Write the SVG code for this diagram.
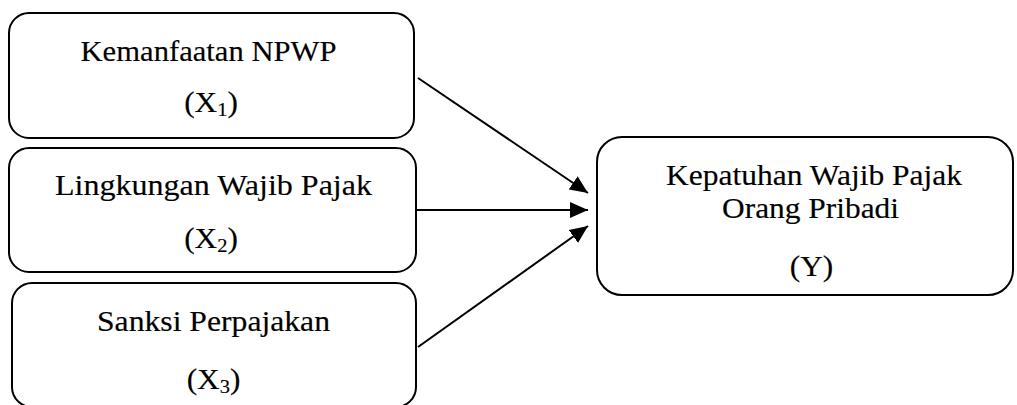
<svg xmlns="http://www.w3.org/2000/svg" width="1017" height="405" viewBox="0 0 1017 405">
<style>
.box{fill:#fff;stroke:#000;stroke-width:2}
.t{font-family:"Liberation Serif","Times New Roman",serif;font-size:29px;fill:#000;stroke:#000;stroke-width:0.15;text-anchor:middle}
.sub{font-size:19px}
.edge{stroke:#000;stroke-width:2;fill:none;marker-end:url(#ah)}
</style>
<defs>
<marker id="ah" markerUnits="userSpaceOnUse" markerWidth="19" markerHeight="17" refX="18" refY="8" orient="auto" viewBox="0 0 19 16">
<path d="M0,0 L18,8 L0,16 z" fill="#000"/>
</marker>
</defs>
<rect width="1017" height="405" fill="#fff"/>
<g id="x1">
<rect class="box" x="9" y="13" width="405" height="125" rx="20"/>
<text class="t" x="208.5" y="61" textLength="256" lengthAdjust="spacingAndGlyphs">Kemanfaatan NPWP</text>
<text class="t" transform="translate(211 112) scale(1.08 1)">(X<tspan class="sub" dy="4">1</tspan><tspan dy="-4">)</tspan></text>
</g>
<g id="x2">
<rect class="box" x="9" y="148" width="407" height="124" rx="20"/>
<text class="t" x="213.5" y="195" textLength="317" lengthAdjust="spacingAndGlyphs">Lingkungan Wajib Pajak</text>
<text class="t" transform="translate(211 248) scale(1.08 1)">(X<tspan class="sub" dy="4">2</tspan><tspan dy="-4">)</tspan></text>
</g>
<g id="x3">
<rect class="box" x="12" y="283" width="404" height="124" rx="20"/>
<text class="t" x="213.5" y="331" textLength="233" lengthAdjust="spacingAndGlyphs">Sanksi Perpajakan</text>
<text class="t" transform="translate(213.5 389) scale(1.08 1)">(X<tspan class="sub" dy="4">3</tspan><tspan dy="-4">)</tspan></text>
</g>
<g id="y">
<rect class="box" x="597" y="137" width="416" height="158" rx="25"/>
<text class="t" x="814" y="185" textLength="296" lengthAdjust="spacingAndGlyphs">Kepatuhan Wajib Pajak</text>
<text class="t" x="810.5" y="218" textLength="177" lengthAdjust="spacingAndGlyphs">Orang Pribadi</text>
<text class="t" transform="translate(811.5 276) scale(1.08 1)">(Y)</text>
</g>
<g id="connectors">
<line class="edge" x1="418" y1="78" x2="588" y2="193"/>
<line class="edge" x1="416" y1="210" x2="588" y2="210"/>
<line class="edge" x1="418" y1="347" x2="588" y2="226"/>
</g>
</svg>
